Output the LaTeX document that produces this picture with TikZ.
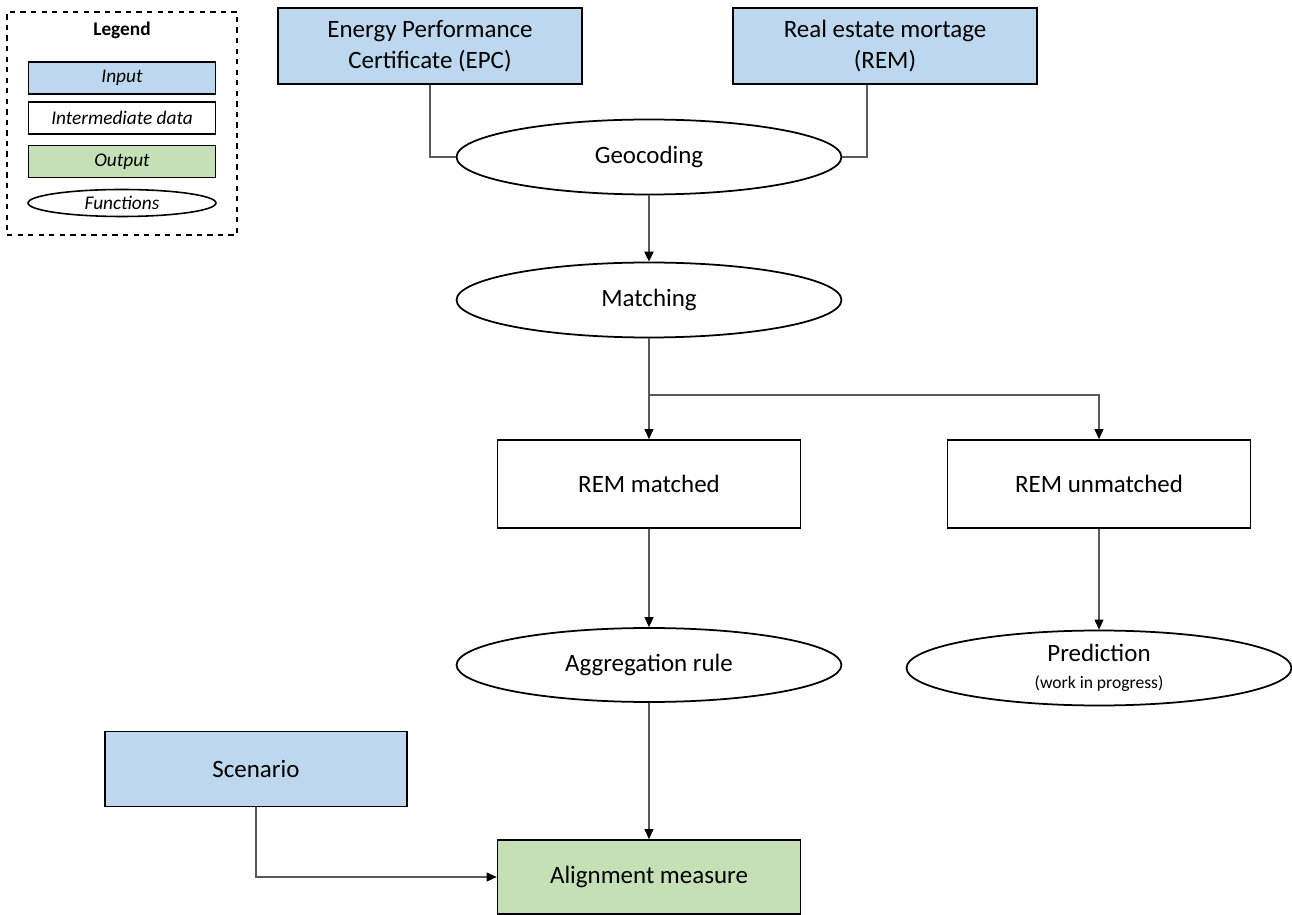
\documentclass[tikz,border=0pt]{standalone}
\usepackage{fontspec}
\setmainfont{Carlito}
\definecolor{inputblue}{RGB}{189,215,238}
\definecolor{outputgreen}{RGB}{197,224,180}
\definecolor{linegray}{RGB}{89,89,89}
\usetikzlibrary{shapes.geometric,arrows.meta,positioning,calc}

\begin{document}
\begin{tikzpicture}[x=0.02cm,y=-0.02cm, every node/.style={align=center},
    databox/.style={draw=black, line width=1pt, rectangle, inner sep=2pt,
                    font=\fontsize{14.2}{17.3}\selectfont},
    inbox/.style={databox, fill=inputblue, minimum width=6.08cm, minimum height=1.52cm},
    midbox/.style={databox, fill=white, minimum width=6.06cm, minimum height=1.76cm},
    outbox/.style={databox, fill=outputgreen, minimum width=6.06cm, minimum height=1.48cm},
    func/.style={ellipse, draw=black, line width=1pt, inner sep=0pt,
                 minimum width=7.7cm, minimum height=1.5cm,
                 font=\fontsize{14.2}{17.3}\selectfont},
    legbox/.style={draw=black, line width=0.9pt, minimum width=3.74cm, minimum height=0.64cm,
                   inner sep=0pt, font=\fontsize{11}{13}\selectfont\itshape},
    link/.style={draw=linegray, line width=0.6pt},
    flow/.style={link, -{Triangle[length=0.2cm,width=0.18cm,color=black,fill=black]}}]
  \useasboundingbox (0,0) rectangle (1292,915);

  % legend
  \node[draw=black, dashed, line width=0.8pt, minimum width=4.6cm, minimum height=4.46cm]
    (legend) at (122,123.5) {};
  \node[font=\fontsize{11}{13}\selectfont\bfseries] (legtitle) at (122,30) {Legend};
  \node[legbox, fill=inputblue] (leginput) at (122,78) {Input};
  \node[legbox, fill=white] (legmid) at (122,118) {Intermediate data};
  \node[legbox, fill=outputgreen] (legout) at (122,161.5) {Output};
  \node[legbox, ellipse, minimum width=3.76cm, minimum height=0.54cm] (legfunc) at (122,203) {Functions};

  % inputs
  \node[inbox] (epc) at (430,46) {Energy Performance\\Certificate (EPC)};
  \node[inbox] (rem) at (885,46) {Real estate mortage\\(REM)};
  \node[inbox, minimum width=6.04cm, minimum height=1.5cm] (scen) at (256,769) {Scenario};

  % functions
  \node[func] (geo) at (649,157) {Geocoding};
  \node[func] (match) at (649,300) {Matching};
  \node[func, minimum height=1.48cm] (aggr) at (649,665) {Aggregation rule};
  \node[func] (pred) at (1099,668) {Prediction\\[-2pt]{\fontsize{10}{12}\selectfont(work in progress)}};

  % intermediate data and output
  \node[midbox] (remm) at (649,484) {REM matched};
  \node[midbox] (remu) at (1099,484) {REM unmatched};
  \node[outbox] (align) at (649,877) {Alignment measure};

  \coordinate (split) at (649,395);

  % connectors
  \draw[link] (epc.south) |- (geo.west);
  \draw[link] ([xshift=-0.36cm]rem.south) |- (geo.east);
  \draw[flow, line width=1.1pt] (geo.south) -- (match.north);
  \draw[link] (match.south) -- (split);
  \draw[flow] (split) -- (remm.north);
  \draw[flow] (split) -| (remu.north);
  \draw[flow] (remm.south) -- (aggr.north);
  \draw[flow] (remu.south) -- (pred.north);
  \draw[flow] (aggr.south) -- (align.north);
  \draw[flow] (scen.south) |- (align.west);
\end{tikzpicture}
\end{document}
